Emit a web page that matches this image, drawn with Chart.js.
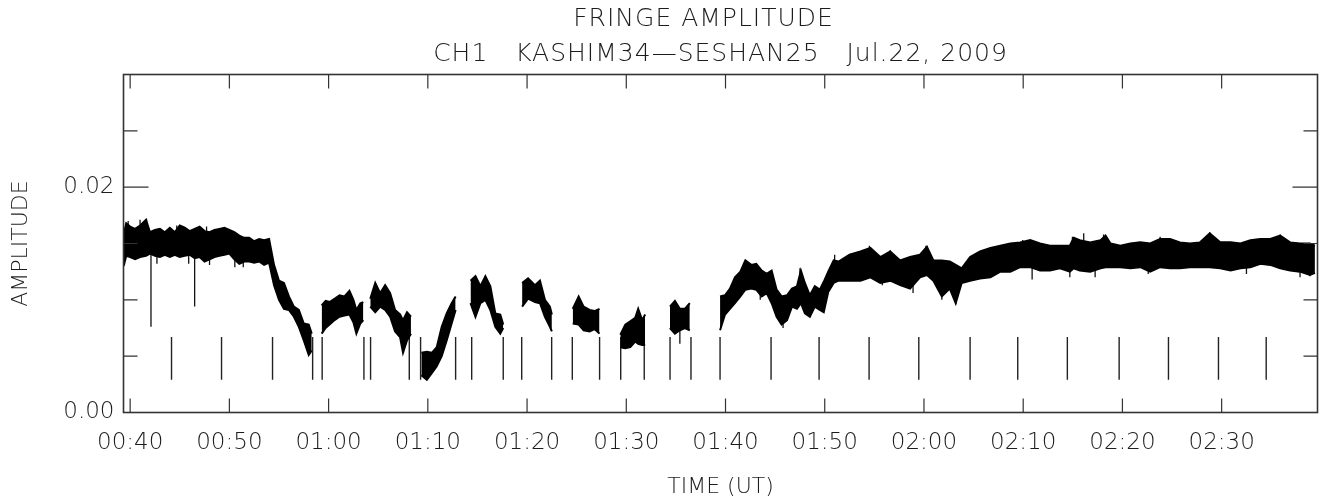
<!DOCTYPE html>
<html lang="en">
<head>
<meta charset="UTF-8">
<title>Fringe amplitude</title>
<script src="https://cdn.jsdelivr.net/npm/chart.js"></script>
<style>
  body { margin: 0; background: #fff; }
  #viz { display: block; }
</style>
</head>
<body>
<canvas id="viz" width="1324" height="501"></canvas>
<script>
// time in minutes after 00:00 UT; null marks a gap between scans
const timeMin = [
  39.35, 39.6, 40.0, 40.5, 41.0, 41.6, 42.0, 42.5, 43.0, 43.5, 44.0, 44.5, 45.0, 45.5, 46.0, 46.5,
  47.0, 47.5, 48.0, 48.5, 49.0, 49.5, 50.0, 50.5, 51.0, 51.5, 52.0, 52.5, 53.0, 53.5, 54.0, 54.5,
  55.0, 55.5, 56.0, 56.5, 57.0, 57.5, 58.0, 58.3, null,
  59.3, 59.7, 60.1, 60.6, 61.1, 61.6, 62.1, 62.5, 62.8, 63.2, 63.5, null,
  64.2, 64.7, 65.2, 65.7, 66.2, 66.7, 67.2, 67.5, 67.9, 68.3, null,
  69.35, 69.9, 70.4, 70.9, 71.4, 71.9, 72.4, 72.8, null,
  74.3, 74.8, 75.3, 75.8, 76.3, 76.8, 77.3, 77.6, null,
  79.5, 80.1, 80.8, 81.3, 81.8, 82.3, 82.5, null,
  84.6, 85.2, 85.7, 86.3, 86.8, 87.3, null,
  89.4, 89.9, 90.4, 90.9, 91.2, 91.6, 91.9, null,
  94.4, 94.9, 95.4, 95.9, 96.4, null,
  99.45, 99.95, 100.45, 100.95, 101.5, 102.0, 102.6, 103.1, 103.65, 104.15, 104.65, 105.15,
  105.65, 106.2, 106.7, 107.2, 107.6, 108.0, 108.5, 109.0, 109.5, 109.9, 110.35, 110.9, 111.4,
  112.5, 113.6, 114.6, 115.6, 116.6, 117.6, 118.6, 119.6, 120.3, 120.95, 121.8, 122.6, 123.2,
  123.8, 124.65, 125.65, 126.7, 127.7, 128.7, 129.7, 130.7, 131.7, 132.7, 133.7, 134.7, 135.1,
  135.7, 136.75, 137.8, 138.3, 138.8, 139.8, 140.8, 141.8, 142.8, 143.8, 144.8, 145.8, 146.8,
  147.8, 148.8, 149.85, 150.9, 151.9, 152.9, 153.9, 154.9, 155.9, 156.9, 157.9, 158.9, 159.4
]

// upper edge of the amplitude scatter
const ampHigh = [
  0.0158, 0.0168, 0.0165, 0.0163, 0.0166, 0.0171, 0.0160, 0.0162, 0.0163, 0.0160, 0.0164, 0.0160, 0.0166, 0.0164, 0.0161, 0.0163,
  0.0165, 0.0161, 0.0160, 0.0162, 0.0163, 0.0164, 0.0162, 0.0160, 0.0157, 0.0155, 0.0155, 0.0152, 0.0154, 0.0153, 0.0154, 0.0131,
  0.0117, 0.0115, 0.0103, 0.0094, 0.0091, 0.0079, 0.0078, 0.0070, null,
  0.0095, 0.0099, 0.0098, 0.0101, 0.0104, 0.0103, 0.0108, 0.0100, 0.0091, 0.0097, 0.0098, null,
  0.0101, 0.0115, 0.0106, 0.0113, 0.0106, 0.0091, 0.0087, 0.0082, 0.0089, 0.0085, null,
  0.0053, 0.0054, 0.0053, 0.0058, 0.0076, 0.0088, 0.0097, 0.0103, null,
  0.0117, 0.0121, 0.0112, 0.0121, 0.0112, 0.0088, 0.0087, 0.0078, null,
  0.0115, 0.0119, 0.0113, 0.0117, 0.0100, 0.0094, 0.0087, null,
  0.0092, 0.0103, 0.0094, 0.0091, 0.0090, 0.0092, null,
  0.0069, 0.0078, 0.0081, 0.0084, 0.0092, 0.0082, 0.0087, null,
  0.0094, 0.0099, 0.0092, 0.0092, 0.0097, null,
  0.0103, 0.0104, 0.0110, 0.0120, 0.0125, 0.0135, 0.0131, 0.0132, 0.0126, 0.0123, 0.0126, 0.0109,
  0.0103, 0.0104, 0.0110, 0.0112, 0.0126, 0.0115, 0.0104, 0.0112, 0.0109, 0.0116, 0.0125, 0.0135, 0.0134,
  0.0140, 0.0143, 0.0146, 0.0138, 0.0143, 0.0135, 0.0138, 0.0140, 0.0147, 0.0135, 0.0135, 0.0134, 0.0131,
  0.0128, 0.0138, 0.0143, 0.0146, 0.0148, 0.0150, 0.0151, 0.0153, 0.0150, 0.0148, 0.0148, 0.0148, 0.0155,
  0.0153, 0.0151, 0.0153, 0.0157, 0.0150, 0.0148, 0.0150, 0.0151, 0.0150, 0.0154, 0.0154, 0.0151, 0.0150,
  0.0151, 0.0159, 0.0151, 0.0151, 0.0150, 0.0153, 0.0154, 0.0154, 0.0157, 0.0151, 0.0150, 0.0150, 0.0148
]

// lower edge of the amplitude scatter
const ampLow = [
  0.0130, 0.0139, 0.0138, 0.0136, 0.0138, 0.0139, 0.0141, 0.0139, 0.0138, 0.0140, 0.0138, 0.0140, 0.0138, 0.0139, 0.0140, 0.0137,
  0.0138, 0.0134, 0.0136, 0.0138, 0.0139, 0.0140, 0.0141, 0.0136, 0.0132, 0.0134, 0.0134, 0.0133, 0.0134, 0.0131, 0.0133, 0.0113,
  0.0100, 0.0092, 0.0091, 0.0085, 0.0076, 0.0064, 0.0051, 0.0055, null,
  0.0070, 0.0075, 0.0078, 0.0082, 0.0085, 0.0086, 0.0087, 0.0080, 0.0070, 0.0079, 0.0082, null,
  0.0094, 0.0089, 0.0094, 0.0091, 0.0085, 0.0072, 0.0067, 0.0053, 0.0064, 0.0070, null,
  0.0033, 0.0029, 0.0035, 0.0041, 0.0050, 0.0064, 0.0079, 0.0091, null,
  0.0097, 0.0085, 0.0097, 0.0100, 0.0091, 0.0076, 0.0070, 0.0075, null,
  0.0094, 0.0101, 0.0098, 0.0097, 0.0085, 0.0076, 0.0072, null,
  0.0079, 0.0078, 0.0073, 0.0072, 0.0074, 0.0070, null,
  0.0058, 0.0057, 0.0058, 0.0063, 0.0061, 0.0060, 0.0060, null,
  0.0075, 0.0070, 0.0073, 0.0075, 0.0073, null,
  0.0073, 0.0087, 0.0092, 0.0097, 0.0103, 0.0109, 0.0110, 0.0109, 0.0103, 0.0106, 0.0097, 0.0085,
  0.0078, 0.0082, 0.0094, 0.0092, 0.0097, 0.0088, 0.0085, 0.0094, 0.0091, 0.0089, 0.0107, 0.0115, 0.0117,
  0.0117, 0.0117, 0.0120, 0.0115, 0.0117, 0.0113, 0.0110, 0.0120, 0.0122, 0.0117, 0.0103, 0.0110, 0.0097,
  0.0115, 0.0117, 0.0119, 0.0120, 0.0125, 0.0125, 0.0129, 0.0129, 0.0126, 0.0126, 0.0128, 0.0125, 0.0128,
  0.0126, 0.0125, 0.0128, 0.0129, 0.0129, 0.0129, 0.0128, 0.0129, 0.0125, 0.0129, 0.0128, 0.0128, 0.0129,
  0.0129, 0.0129, 0.0128, 0.0126, 0.0128, 0.0129, 0.0132, 0.0131, 0.0128, 0.0126, 0.0125, 0.0122, 0.0124
]

// single samples sticking out of the scatter: time, inner end, outer tip
const spikeTime = [
  42.1, 46.5, 39.8, 41.0, 41.65, 44.7, 47.7, 42.7, 45.9, 48.0, 50.55, 51.4,
  95.4, 103.5, 105.8, 107.5, 111.0, 114.5, 115.8, 116.6, 118.9, 120.2, 121.8, 123.2,
  126.7, 129.95, 130.9, 134.7, 134.96, 136.1, 137.25, 138.1, 142.6, 143.8, 148.8, 152.5,
  155.9, 157.9, 158.9
]
const spikeFrom = [
  0.0140, 0.0138, 0.0150, 0.0150, 0.0150, 0.0150, 0.0150, 0.0150, 0.0150, 0.0150, 0.0150, 0.0145,
  0.0083, 0.0118, 0.0095, 0.0110, 0.0125, 0.0133, 0.0128, 0.0130, 0.0125, 0.0133, 0.0120, 0.0120,
  0.0133, 0.0140, 0.0153, 0.0137, 0.0140, 0.0140, 0.0140, 0.0140, 0.0140, 0.0140, 0.0140, 0.0140,
  0.0140, 0.0138, 0.0138
]
const spikeTip = [
  0.0076, 0.0094, 0.0170, 0.0171, 0.0172, 0.0166, 0.0165, 0.0132, 0.0132, 0.0131, 0.0129, 0.0129,
  0.0061, 0.0100, 0.0075, 0.0128, 0.0140, 0.0148, 0.0113, 0.0144, 0.0106, 0.0148, 0.0100, 0.0096,
  0.0147, 0.0153, 0.0118, 0.0120, 0.0156, 0.0159, 0.0120, 0.0158, 0.0123, 0.0156, 0.0160, 0.0123,
  0.0158, 0.0120, 0.0121
]

// scan start / end markers
const markTime = [
  44.17, 49.21, 54.35, 58.39, 59.35, 63.56, 64.23, 68.13, 69.27, 72.80, 74.42, 77.60, 79.46, 82.48,
  84.56, 87.31, 89.44, 91.81, 94.41, 96.52, 99.45, 104.59, 109.43, 114.47, 119.48, 124.65, 129.45,
  134.45, 139.67, 144.64, 149.68, 154.49
]
const markLow = 0.0029
const markHigh = 0.0067

const xTicks = [40, 50, 60, 70, 80, 90, 100, 110, 120, 130, 140, 150]
const xLabels = ['00:40', '00:50', '01:00', '01:10', '01:20', '01:30', '01:40', '01:50', '02:00', '02:10', '02:20', '02:30']
const yTicks = [0, 0.005, 0.01, 0.015, 0.02, 0.025, 0.03]
const yLabels = ['0.00', '', '', '', '0.02', '', '']

const titleLines = ['FRINGE AMPLITUDE', 'CH1   KASHIM34\u2014SESHAN25   Jul.22, 2009']

const fontFamily = '"DejaVu Sans", sans-serif'
const fontWeight = '200'
const ink = '#1c1c1c'

// split the arrays into one piece per scan
const scans = []
let cur = null
timeMin.forEach((t, i) => {
  if (t === null) { cur = null; return }
  if (!cur) { cur = { hi: [], lo: [] }; scans.push(cur) }
  cur.hi.push({ x: t, y: ampHigh[i] })
  cur.lo.push({ x: t, y: ampLow[i] })
})

const datasets = []
scans.forEach(s => {
  datasets.push({ data: s.hi, borderColor: '#000', backgroundColor: '#000', borderWidth: 2, fill: '+1' })
  datasets.push({ data: s.lo, borderColor: '#000', borderWidth: 2, fill: false })
})

const spikePts = []
spikeTime.forEach((t, i) => {
  spikePts.push({ x: t, y: spikeFrom[i] }, { x: t, y: spikeTip[i] }, { x: t, y: null })
})
datasets.push({ data: spikePts, borderColor: '#111', borderWidth: 1.3, fill: false, spanGaps: false })

const markPts = []
markTime.forEach(t => {
  markPts.push({ x: t, y: markLow }, { x: t, y: markHigh }, { x: t, y: null })
})
datasets.push({ data: markPts, borderColor: '#222', borderWidth: 1.4, fill: false, spanGaps: false })

// box round the plot with inward ticks on all four sides
const frameTicks = {
  id: 'frameTicks',
  afterDatasetsDraw(chart) {
    const { ctx, chartArea: a, scales: { x, y } } = chart
    ctx.save()
    ctx.strokeStyle = '#333'
    ctx.lineWidth = 1.6
    ctx.strokeRect(a.left, a.top, a.right - a.left, a.bottom - a.top)
    ctx.lineWidth = 1.2
    ctx.beginPath()
    x.ticks.forEach(t => {
      const px = x.getPixelForValue(t.value)
      ctx.moveTo(px, a.bottom); ctx.lineTo(px, a.bottom - 14)
      ctx.moveTo(px, a.top); ctx.lineTo(px, a.top + 14)
    })
    y.ticks.forEach(t => {
      if (t.value <= y.min || t.value >= y.max) return
      const py = y.getPixelForValue(t.value)
      const len = t.label ? 25 : 14
      ctx.moveTo(a.left, py); ctx.lineTo(a.left + len, py)
      ctx.moveTo(a.right, py); ctx.lineTo(a.right - len, py)
    })
    ctx.stroke()
    ctx.restore()
  }
}

// two-line heading over the plot box, slightly spaced out
const heading = {
  id: 'heading',
  afterDraw(chart) {
    const { ctx, chartArea: a } = chart
    const cx = (a.left + a.right) / 2
    ctx.save()
    ctx.fillStyle = ink
    ctx.font = fontWeight + ' 25px ' + fontFamily
    ctx.textAlign = 'center'
    ctx.textBaseline = 'middle'
    ctx.letterSpacing = '1px'
    ctx.fillText(titleLines[0], cx - 17, 19)
    ctx.fillText(titleLines[1], cx, 54)
    ctx.restore()
  }
}

new Chart(document.getElementById('viz'), {
  type: 'line',
  data: { datasets },
  plugins: [frameTicks, heading],
  options: {
    responsive: false,
    animation: false,
    devicePixelRatio: 1,
    layout: { padding: { left: 0, right: 6.5, top: 74.5, bottom: 0 } },
    elements: { point: { radius: 0 }, line: { tension: 0 } },
    plugins: {
      legend: { display: false },
      tooltip: { enabled: false },
      title: { display: false }
    },
    scales: {
      x: {
        type: 'linear',
        min: 39.33,
        max: 159.66,
        afterBuildTicks: scale => { scale.ticks = xTicks.map(v => ({ value: v })) },
        afterFit: scale => { scale.height = 88.5 },
        grid: { display: false, drawTicks: false },
        border: { display: false },
        ticks: {
          autoSkip: false,
          maxRotation: 0,
          minRotation: 0,
          padding: 17,
          color: ink,
          font: { family: fontFamily, size: 23, weight: fontWeight },
          callback: (v, i) => xLabels[i]
        },
        title: {
          display: true,
          text: 'TIME (UT)',
          color: ink,
          font: { family: fontFamily, size: 22, weight: fontWeight, lineHeight: 1.2 },
          padding: { top: 0, bottom: 1 }
        }
      },
      y: {
        min: 0,
        max: 0.03,
        afterBuildTicks: scale => { scale.ticks = yTicks.map(v => ({ value: v })) },
        afterFit: scale => { scale.width = 123.5 },
        grid: { display: false, drawTicks: false },
        border: { display: false },
        ticks: {
          padding: 9,
          color: ink,
          font: { family: fontFamily, size: 23, weight: fontWeight },
          callback: (v, i) => yLabels[i]
        },
        title: {
          display: true,
          text: 'AMPLITUDE',
          color: ink,
          font: { family: fontFamily, size: 22, weight: fontWeight, lineHeight: 1.2 },
          padding: { top: 8, bottom: 0 }
        }
      }
    }
  }
})
</script>
</body>
</html>
